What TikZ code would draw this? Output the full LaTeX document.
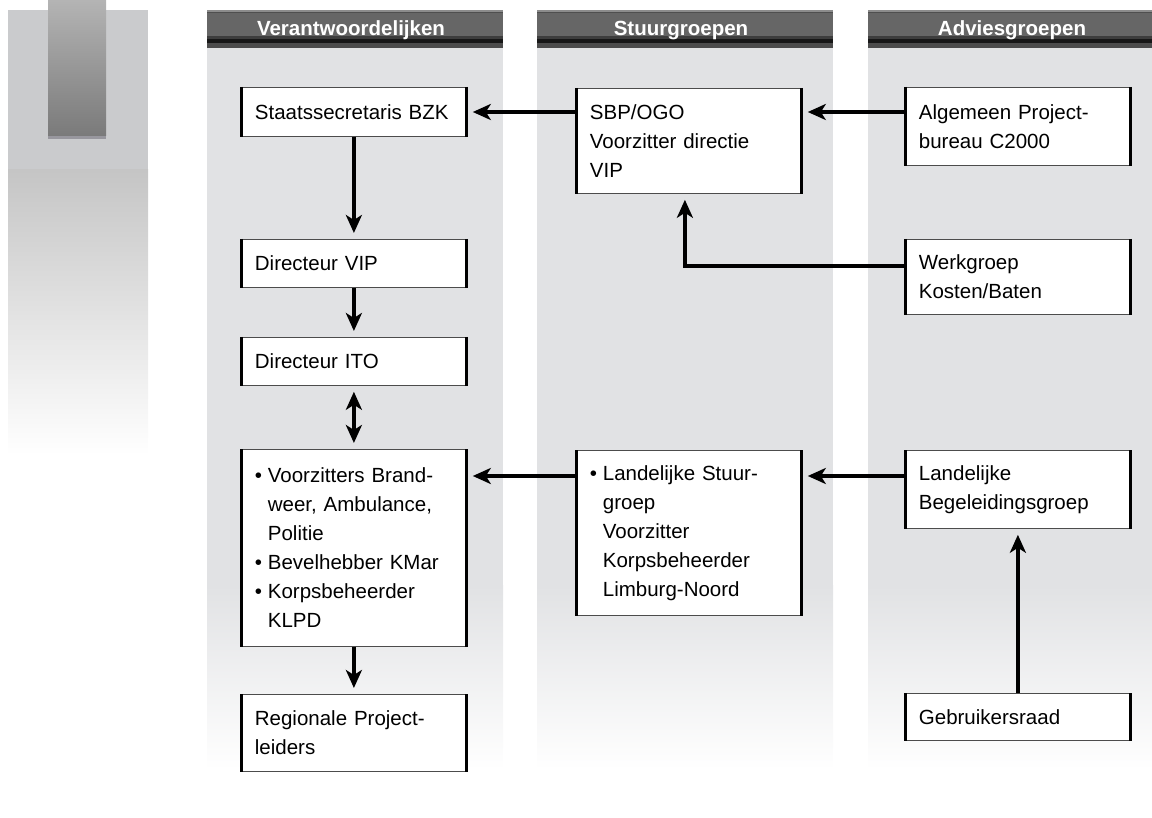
\documentclass[tikz,border=0pt]{standalone}
\usepackage{fontspec}
\setmainfont{Liberation Sans}
\usetikzlibrary{arrows.meta,calc}
\definecolor{colbg}{RGB}{225,226,228}
\definecolor{sidebg}{RGB}{202,203,205}
\definecolor{sidelo}{RGB}{197,197,197}
\definecolor{barhi}{RGB}{180,180,180}
\definecolor{barlo}{RGB}{122,122,122}
\definecolor{barrim}{RGB}{152,151,158}
\definecolor{headbg}{RGB}{102,102,102}
\definecolor{headhi}{RGB}{140,140,140}
\newcommand{\bul}{\makebox[13pt][l]{\textbullet}}
\newcommand{\ind}{\hspace*{13pt}}

\begin{document}
\begin{tikzpicture}[x=1pt,y=-1pt,
    orgbox/.style={draw=black!70,line width=0.8pt,fill=white,anchor=north west,
      text width=198pt,inner xsep=13.5pt,inner ysep=0pt,align=left,
      font=\fontsize{20.5}{29}\selectfont},
    headtext/.style={text=white,anchor=base,font=\bfseries\fontsize{20.5}{20.5}\selectfont},
    sidebar/.style={line width=3pt},
    flow/.style={line width=4pt,-{Stealth[length=18pt,width=16pt,inset=5pt]},shorten >=6pt}]
  \useasboundingbox (0,0) rectangle (1152,818);
  \clip (0,0) rectangle (1152,818);
  % side strip
  \fill[sidebg] (8,10) rectangle (148,170);
  \shade[top color=sidelo,bottom color=white] (8,170) rectangle (148,455);
  \shade[top color=barhi,bottom color=barlo] (48,0) rectangle (106,136);
  \fill[barrim] (48,136) rectangle (106,139);
  % columns with headers
  \foreach \cx/\title in {207/Verantwoordelijken,537/Stuurgroepen,868/Adviesgroepen} {
    \fill[colbg] (\cx,48) rectangle ++(296,537);
    \shade[top color=colbg,bottom color=white] (\cx,585) rectangle ++(296,185);
    \fill[headbg] (\cx,10) rectangle ++(296,38);
    \fill[headhi] (\cx,10) rectangle ++(296,2);
    \fill[black!69] (\cx,12) rectangle ++(296,1.5);
    \fill[black!76] (\cx,36) rectangle ++(296,3);
    \fill[black!91] (\cx,39) rectangle ++(296,4);
    \fill[black!70] (\cx,43) rectangle ++(296,5);
    \node[headtext] (h-\title) at (\cx+144,36) {\title};
  }
  % Verantwoordelijken
  \node[orgbox,minimum height=49pt] (bzk) at (241,87) {Staatssecretaris BZK};
  \node[orgbox,minimum height=48pt] (vip) at (241,239) {Directeur VIP};
  \node[orgbox,minimum height=48pt] (ito) at (241,337) {Directeur ITO};
  \node[orgbox,minimum height=197pt] (voorz) at (241,449)
    {\bul Voorzitters Brand-\\\ind weer, Ambulance,\\\ind Politie\\
     \bul Bevelhebber KMar\\\bul Korpsbeheerder\\\ind KLPD};
  \node[orgbox,minimum height=77pt] (regio) at (241,694) {Regionale Project-\\leiders};
  % Stuurgroepen
  \node[orgbox,minimum height=105pt] (sbp) at (576,88) {SBP/OGO\\Voorzitter directie\\VIP};
  \node[orgbox,minimum height=165pt] (lstuur) at (576,450)
    {\bul Landelijke Stuur-\\\ind groep\\\ind Voorzitter\\\ind Korpsbeheerder\\\ind Limburg-Noord};
  % Adviesgroepen
  \node[orgbox,minimum height=78pt] (alg) at (905,87) {Algemeen Project-\\bureau C2000};
  \node[orgbox,minimum height=75pt] (werk) at (905,239) {Werkgroep\\Kosten/Baten};
  \node[orgbox,minimum height=78pt] (begel) at (905,450) {Landelijke\\Begeleidingsgroep};
  \node[orgbox,minimum height=47pt] (gebr) at (905,693) {Gebruikersraad};
  \foreach \n in {bzk,vip,ito,voorz,regio,sbp,lstuur,alg,werk,begel,gebr}
    \draw[sidebar] (\n.north west) -- (\n.south west) (\n.north east) -- (\n.south east);
  % connectors
  \coordinate (row1) at (0,112);
  \coordinate (row2) at (0,266);
  \coordinate (row4) at (0,476);
  \draw[flow] (sbp.west |- row1) -- (bzk.east |- row1);
  \draw[flow] (alg.west |- row1) -- (sbp.east |- row1);
  \draw[flow] (werk.west |- row2) -| ([xshift=-4pt]sbp.south);
  \draw[flow] (bzk) -- (vip);
  \draw[flow] (vip) -- (ito);
  \draw[flow,{Stealth[length=18pt,width=16pt,inset=5pt]}-{Stealth[length=18pt,width=16pt,inset=5pt]},shorten <=6pt] (ito) -- (voorz);
  \draw[flow] (voorz) -- (regio);
  \draw[flow] (lstuur.west |- row4) -- (voorz.east |- row4);
  \draw[flow] (begel.west |- row4) -- (lstuur.east |- row4);
  \draw[flow] (gebr) -- (begel);
\end{tikzpicture}
\end{document}
